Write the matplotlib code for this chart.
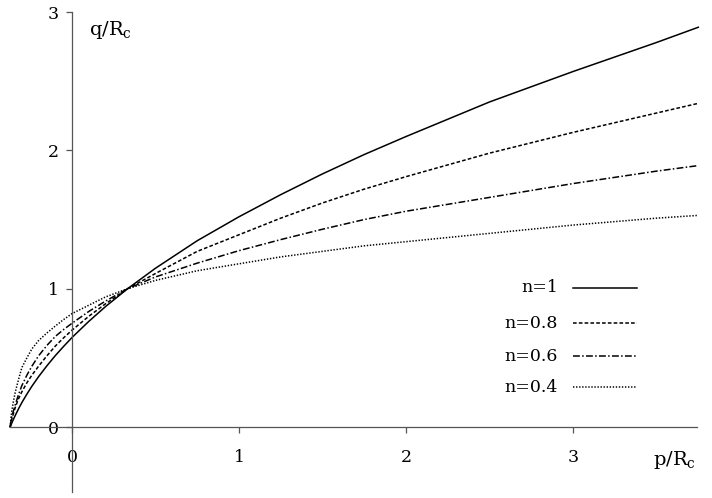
import matplotlib
matplotlib.use("Agg")
import matplotlib.pyplot as plt

plt.rcParams["font.family"] = ["DejaVu Serif"]
plt.rcParams["mathtext.fontset"] = "dejavuserif"

# p/Rc values
p_vals = [-0.37, -0.365, -0.36, -0.35, -0.34, -0.32, -0.30, -0.27, -0.24, -0.20,
          -0.15, -0.10, -0.05, 0.00, 0.10, 0.20, 0.333, 0.50, 0.75, 1.00,
          1.25, 1.50, 1.75, 2.00, 2.50, 3.00, 3.50, 3.75]

# q/Rc for each exponent n
q_n10 = [0.00, 0.015, 0.03, 0.057, 0.083, 0.132, 0.177, 0.238, 0.295, 0.364,
         0.443, 0.516, 0.583, 0.647, 0.763, 0.870, 1.00, 1.148, 1.347, 1.52,
         1.68, 1.83, 1.97, 2.10, 2.35, 2.57, 2.78, 2.89]
q_n08 = [0.00, 0.035, 0.06, 0.10, 0.14, 0.205, 0.255, 0.32, 0.375, 0.44,
         0.515, 0.585, 0.645, 0.70, 0.80, 0.89, 1.00, 1.11, 1.27, 1.39,
         1.51, 1.62, 1.72, 1.81, 1.98, 2.13, 2.27, 2.34]
q_n06 = [0.00, 0.045, 0.075, 0.12, 0.16, 0.235, 0.30, 0.375, 0.44, 0.515,
         0.59, 0.655, 0.705, 0.75, 0.835, 0.91, 1.00, 1.085, 1.185, 1.275,
         1.355, 1.43, 1.50, 1.56, 1.66, 1.76, 1.85, 1.89]
q_n04 = [0.00, 0.07, 0.12, 0.19, 0.25, 0.345, 0.43, 0.50, 0.565, 0.625,
         0.68, 0.73, 0.777, 0.82, 0.88, 0.94, 1.00, 1.06, 1.13, 1.18,
         1.23, 1.27, 1.31, 1.34, 1.40, 1.46, 1.51, 1.53]

labels = ["n=1", "n=0.8", "n=0.6", "n=0.4"]
x_ticks = [0, 1, 2, 3]
y_ticks = [0, 1, 2, 3]

styles = ["-", (0, (2.4, 1.4)), (0, (4.5, 1.5, 1.0, 1.5)), (0, (0.9, 1.1))]

fig = plt.figure(figsize=(7.12, 4.98), dpi=100)
ax = fig.add_axes([0, 0, 1, 1])
ax.set_xlim(-0.431, 3.832)
ax.set_ylim(-0.513, 3.087)
ax.patch.set_visible(False)

for q, ls in zip([q_n10, q_n08, q_n06, q_n04], styles):
    ax.plot(p_vals, q, color="black", lw=1.1, linestyle=ls, dash_capstyle="butt")

# axes through the origin
for side in ["top", "right"]:
    ax.spines[side].set_visible(False)
ax.spines["bottom"].set_position(("data", 0))
ax.spines["left"].set_position(("data", 0))
ax.spines["bottom"].set_bounds(-0.371, 3.74)
ax.spines["left"].set_bounds(-0.47, 3.0)
for side in ["bottom", "left"]:
    ax.spines[side].set_color("#555555")
    ax.spines[side].set_linewidth(0.9)

ax.set_xticks(x_ticks)
ax.set_yticks(y_ticks)
ax.tick_params(axis="x", direction="out", length=4.5, width=0.9, color="#555555",
               pad=11, labelsize=12.5)
ax.tick_params(axis="y", direction="out", length=4.5, width=0.9, color="#555555",
               pad=5, labelsize=12.5)

ax.text(0.10, 2.87, r"q/R$_{\mathrm{c}}$", fontsize=14, ha="left", va="center")
ax.text(3.48, -0.235, r"p/R$_{\mathrm{c}}$", fontsize=14, ha="left", va="center")

# legend: labels right aligned, samples on the right
leg_y = [288, 323, 356, 387]
for lab, ls, yy in zip(labels, styles, leg_y):
    yf = 1 - yy / 498
    ax.text(558 / 712, yf, lab, transform=ax.transAxes, ha="right", va="center",
            fontsize=12.5)
    ax.plot([573 / 712, 637 / 712], [yf, yf], transform=ax.transAxes,
            color="black", lw=1.1, linestyle=ls, dash_capstyle="butt")

fig.savefig("out.png", dpi=100)
